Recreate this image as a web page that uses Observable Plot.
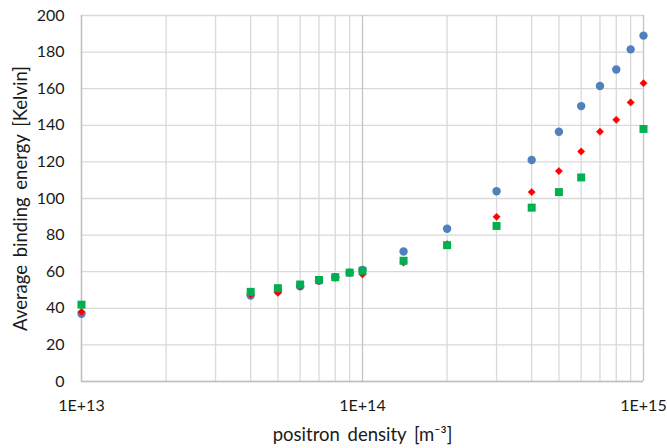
<!DOCTYPE html>
<html><head><meta charset="utf-8">
<script src="https://cdn.jsdelivr.net/npm/d3@7"></script>
<script src="https://cdn.jsdelivr.net/npm/@observablehq/plot@0.6"></script>
<style>body{margin:0;background:#fff} .title text{word-spacing:3px}</style>
</head><body><div id="chart"></div>
<script>
const densities = [1e13,4e13,5e13,6e13,7e13,8e13,9e13,1e14,1.4e14,2e14,3e14,4e14,5e14,6e14,7e14,8e14,9e14,1e15];
const blueValues = [37,47,49.5,52,55,57,59.5,61,71,83.5,104,121,136.5,150.5,161.5,170.5,181.5,189];
const redValues = [38,47.5,48.5,52,55,57,59.5,58.5,65,75,90,103.5,115,125.7,136.5,143,152.5,163];
const greenDensities = [1e13,4e13,5e13,6e13,7e13,8e13,9e13,1e14,1.4e14,2e14,3e14,4e14,5e14,6e14,1e15];
const greenValues = [42,49,51,53,55.5,57,59.5,60.5,66,74.5,85,95,103.5,111.5,138];
const xMajorTicks = [1e13,1e14,1e15];
const xTickLabels = ["1E+13","1E+14","1E+15"];
const xMinorTicks = [2e13,3e13,4e13,5e13,6e13,7e13,8e13,9e13,2e14,3e14,4e14,5e14,6e14,7e14,8e14,9e14];
const yTicks = [0,20,40,60,80,100,120,140,160,180,200];
const xTitle = "positron density [m⁻³]";
const yTitle = "Average binding energy [Kelvin]";

const blue = densities.map((d,i)=>({x:d,y:blueValues[i]}));
const red = densities.map((d,i)=>({x:d,y:redValues[i]}));
const green = greenDensities.map((d,i)=>({x:d,y:greenValues[i]}));

const chart = Plot.plot({
  width: 667, height: 448,
  marginLeft: 81, marginRight: 24, marginTop: 15, marginBottom: 67,
  style: {fontFamily: "Lato, sans-serif", fontSize: "15px", color: "#1a1a1a", background: "#fff"},
  x: {type: "log", domain: [1e13, 1e15]},
  y: {domain: [0, 200]},
  marks: [
    Plot.ruleY(yTicks, {stroke: "#d9d9d9", strokeWidth: 1.3}),
    Plot.ruleX(xMinorTicks, {stroke: "#d9d9d9", strokeWidth: 1.3}),
    Plot.ruleX(xMajorTicks, {stroke: "#c4c4c4", strokeWidth: 1.3}),
    Plot.ruleY([0], {stroke: "#bfbfbf", strokeWidth: 1.3}),
    Plot.ruleX([1e13], {stroke: "#bfbfbf", strokeWidth: 1.3}),
    Plot.axisY(yTicks, {tickSize: 0, tickPadding: 17, fontSize: 16, label: null}),
    Plot.axisX(xMajorTicks, {tickSize: 0, tickPadding: 18, fontSize: 16, tickFormat: d => xTickLabels[xMajorTicks.indexOf(d)], label: null}),
    Plot.text([xTitle], {frameAnchor: "bottom", textAnchor: "middle", dy: 59, fontSize: 18.5, fill: "#1a1a1a", className: "title"}),
    Plot.text([yTitle], {frameAnchor: "left", textAnchor: "middle", dx: -60, rotate: -90, fontSize: 18.5, fill: "#1a1a1a", className: "title"}),
    Plot.dot(blue, {x: "x", y: "y", r: 4.2, symbol: "circle", fill: "#4f81bd"}),
    Plot.dot(red, {x: "x", y: "y", r: 3.3, symbol: "diamond2", fill: "#ff0000", stroke: "#ff0000", strokeWidth: 0.5}),
    Plot.dot(green, {x: "x", y: "y", r: 4.5, symbol: "square", fill: "#00b050"})
  ]
});
document.getElementById("chart").appendChild(chart);
</script>
</body></html>
